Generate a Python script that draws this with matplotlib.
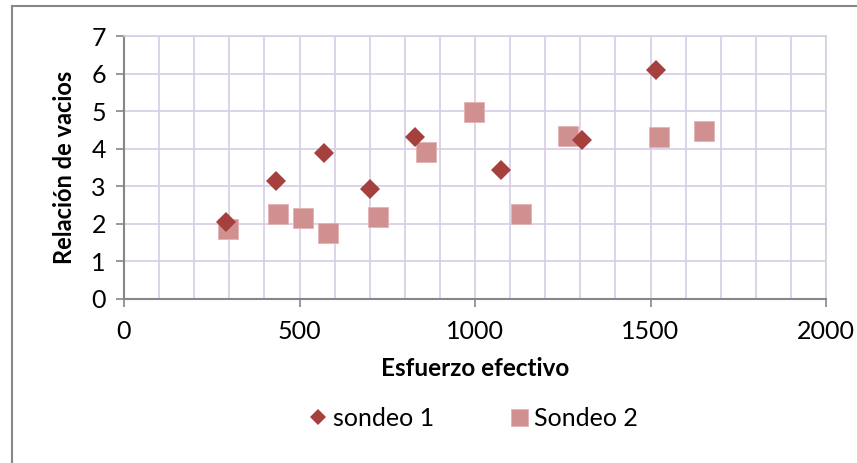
import matplotlib
matplotlib.use("Agg")
import matplotlib.pyplot as plt
from matplotlib.lines import Line2D
from matplotlib.ticker import MultipleLocator

plt.rcParams['font.family'] = ['Lato', 'DejaVu Sans']

s1_x = [290, 432, 569, 701, 829, 1075, 1305, 1516]
s1_y = [2.05, 3.15, 3.88, 2.93, 4.32, 3.43, 4.22, 6.09]
s2_x = [295, 440, 511, 582, 723, 860, 998, 1132, 1265, 1524, 1651]
s2_y = [1.86, 2.27, 2.16, 1.75, 2.17, 3.92, 4.99, 2.26, 4.34, 4.30, 4.47]

labels = ["sondeo 1", "Sondeo 2"]
xlabel = "Esfuerzo efectivo"
ylabel = "Relación de vacios"

W, H = 857, 463
fig = plt.figure(figsize=(W / 100, H / 100), dpi=100)
ax = fig.add_axes([124 / W, 1 - 299 / H, (826 - 124) / W, (299 - 36) / H])

grid_c = '#D6CDE5'
axis_c = '#868686'

h2, = ax.plot(s2_x, s2_y, linestyle='none', marker='s', markersize=14.4,
              color='#D09090', markeredgewidth=0.6, markeredgecolor='#E2B3B3', zorder=3)
h1, = ax.plot(s1_x, s1_y, linestyle='none', marker='D', markersize=9.8,
              color='#A5403C', markeredgewidth=0, zorder=4)

ax.set_xlim(0, 2000)
ax.set_ylim(0, 7)
ax.xaxis.set_major_locator(MultipleLocator(500))
ax.xaxis.set_minor_locator(MultipleLocator(100))
ax.yaxis.set_major_locator(MultipleLocator(1))

ax.grid(True, which='major', axis='both', color=grid_c, linewidth=1.2, zorder=0)
ax.grid(True, which='minor', axis='x', color=grid_c, linewidth=1.2, zorder=0)
ax.set_axisbelow(True)

for side in ['top', 'right']:
    ax.spines[side].set_color(grid_c)
    ax.spines[side].set_linewidth(1.2)
for side in ['left', 'bottom']:
    ax.spines[side].set_color(axis_c)
    ax.spines[side].set_linewidth(1.5)

ax.tick_params(axis='both', which='major', direction='out', length=6, width=1.2,
               color=axis_c, labelsize=18, pad=7, labelcolor='black')
ax.tick_params(axis='x', which='minor', length=0)
ax.tick_params(axis='x', which='major', pad=9)

ax.set_xlabel(xlabel, fontsize=17.5, fontweight='bold', labelpad=10)
ax.set_ylabel(ylabel, fontsize=17, fontweight='bold', labelpad=11)

leg = fig.legend([h1, h2], labels, loc='center', bbox_to_anchor=(472 / W, 1 - 418 / H),
                 ncol=2, frameon=False, fontsize=18, handletextpad=0.1,
                 columnspacing=2.9, handlelength=1.0, markerscale=0.85)

# outer chart frame
fig.add_artist(Line2D([12 / W, 1.0], [1 - 6 / H, 1 - 6 / H], transform=fig.transFigure,
                      color='#878787', linewidth=1.5))
fig.add_artist(Line2D([12 / W, 12 / W], [1 - 6 / H, 0.0], transform=fig.transFigure,
                      color='#878787', linewidth=1.5))

fig.savefig('out.png', dpi=100)
